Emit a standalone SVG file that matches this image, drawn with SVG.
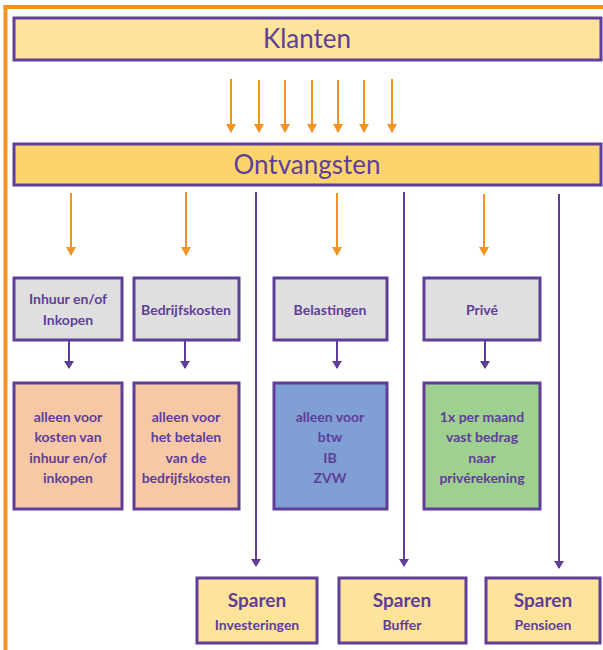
<svg xmlns="http://www.w3.org/2000/svg" width="603" height="650" viewBox="0 0 603 650">
<defs>
<marker id="ao" viewBox="0 0 9 10" markerWidth="9" markerHeight="10" refX="8" refY="5" orient="auto" markerUnits="userSpaceOnUse"><path d="M0,0 L9,5 L0,10 Z" fill="#F39324"/></marker>
<marker id="ap" viewBox="0 0 8 10" markerWidth="8" markerHeight="10" refX="7" refY="5" orient="auto" markerUnits="userSpaceOnUse"><path d="M0,0 L8,5 L0,10 Z" fill="#5E3E98"/></marker>
<style>
.box{stroke:#5E3E98;stroke-width:3}
.o{stroke:#F39324;stroke-width:2;fill:none;marker-end:url(#ao)}
.p{stroke:#5E3E98;stroke-width:2;fill:none;marker-end:url(#ap)}
text{font-family:Lato,"Open Sans","Noto Sans",sans-serif;fill:#5E3E98;text-anchor:middle}
.big{font-size:26px}
.b{font-weight:bold;font-size:14px}
.sp{font-weight:bold;font-size:19px}
</style>
</defs>
<g id="frame">
<line x1="5.5" y1="5" x2="5.5" y2="650" stroke="#F39324" stroke-width="4"/>
<line x1="3.5" y1="7" x2="603" y2="7" stroke="#F39324" stroke-width="4"/>
</g>
<g id="klanten">
<rect class="box" x="14" y="18" width="587" height="42" fill="#FDE49A"/>
<text class="big" x="307" y="48">Klanten</text>
</g>
<g id="ontvangsten">
<rect class="box" x="14" y="144" width="587" height="41" fill="#FBD56B"/>
<text class="big" x="307" y="174">Ontvangsten</text>
</g>
<g id="inhuur">
<rect class="box" x="14" y="278" width="108" height="62" fill="#E0DFDF"/>
<text class="b" x="68" y="304">Inhuur en/of</text>
<text class="b" x="68" y="325">Inkopen</text>
</g>
<g id="bedrijfskosten">
<rect class="box" x="134" y="278" width="105" height="62" fill="#E0DFDF"/>
<text class="b" x="186" y="315">Bedrijfskosten</text>
</g>
<g id="belastingen">
<rect class="box" x="274" y="278" width="113" height="62" fill="#E0DFDF"/>
<text class="b" x="330" y="315">Belastingen</text>
</g>
<g id="prive">
<rect class="box" x="424" y="278" width="116" height="62" fill="#E0DFDF"/>
<text class="b" x="482" y="315">Privé</text>
</g>
<g id="inhuur-detail">
<rect class="box" x="14" y="383" width="108" height="126" fill="#F7C8A6"/>
<text class="b" x="68" y="422">alleen voor</text>
<text class="b" x="68" y="442">kosten van</text>
<text class="b" x="68" y="463">inhuur en/of</text>
<text class="b" x="68" y="483">inkopen</text>
</g>
<g id="bedrijfskosten-detail">
<rect class="box" x="134" y="383" width="105" height="126" fill="#F7C8A6"/>
<text class="b" x="186" y="422">alleen voor</text>
<text class="b" x="186" y="442">het betalen</text>
<text class="b" x="186" y="463">van de</text>
<text class="b" x="186" y="483">bedrijfskosten</text>
</g>
<g id="belastingen-detail">
<rect class="box" x="274" y="383" width="113" height="126" fill="#7F9FD5"/>
<text class="b" x="330" y="422">alleen voor</text>
<text class="b" x="330" y="442">btw</text>
<text class="b" x="330" y="463">IB</text>
<text class="b" x="330" y="483">ZVW</text>
</g>
<g id="prive-detail">
<rect class="box" x="424" y="383" width="116" height="126" fill="#9ED08F"/>
<text class="b" x="482" y="422">1x per maand</text>
<text class="b" x="482" y="442">vast bedrag</text>
<text class="b" x="482" y="463">naar</text>
<text class="b" x="482" y="483">privérekening</text>
</g>
<g id="sparen-investeringen">
<rect class="box" x="197" y="578" width="120" height="65" fill="#FDE49A"/>
<text class="sp" x="257" y="607">Sparen</text>
<text class="b" x="257" y="630">Investeringen</text>
</g>
<g id="sparen-buffer">
<rect class="box" x="339" y="578" width="127" height="65" fill="#FDE49A"/>
<text class="sp" x="402" y="607">Sparen</text>
<text class="b" x="402" y="630">Buffer</text>
</g>
<g id="sparen-pensioen">
<rect class="box" x="486" y="578" width="114" height="65" fill="#FDE49A"/>
<text class="sp" x="543" y="607">Sparen</text>
<text class="b" x="543" y="630">Pensioen</text>
</g>
<g id="connectors">
<line class="o" x1="231" y1="79" x2="231" y2="132"/>
<line class="o" x1="259" y1="80" x2="259" y2="132"/>
<line class="o" x1="285" y1="80" x2="285" y2="132"/>
<line class="o" x1="312" y1="80" x2="312" y2="132"/>
<line class="o" x1="338" y1="80" x2="338" y2="132"/>
<line class="o" x1="364" y1="80" x2="364" y2="132"/>
<line class="o" x1="392" y1="79" x2="392" y2="132"/>
<line class="o" x1="71" y1="193" x2="71" y2="255"/>
<line class="o" x1="186" y1="192" x2="186" y2="255"/>
<line class="o" x1="337" y1="193" x2="337" y2="255"/>
<line class="o" x1="484" y1="194" x2="484" y2="255"/>
<line class="p" x1="69" y1="340" x2="69" y2="368"/>
<line class="p" x1="185" y1="340" x2="185" y2="368"/>
<line class="p" x1="337" y1="340" x2="337" y2="368"/>
<line class="p" x1="485" y1="340" x2="485" y2="368"/>
<line class="p" x1="256" y1="192" x2="256" y2="566"/>
<line class="p" x1="404" y1="192" x2="404" y2="566"/>
<line class="p" x1="559" y1="194" x2="559" y2="568"/>
</g>
</svg>
